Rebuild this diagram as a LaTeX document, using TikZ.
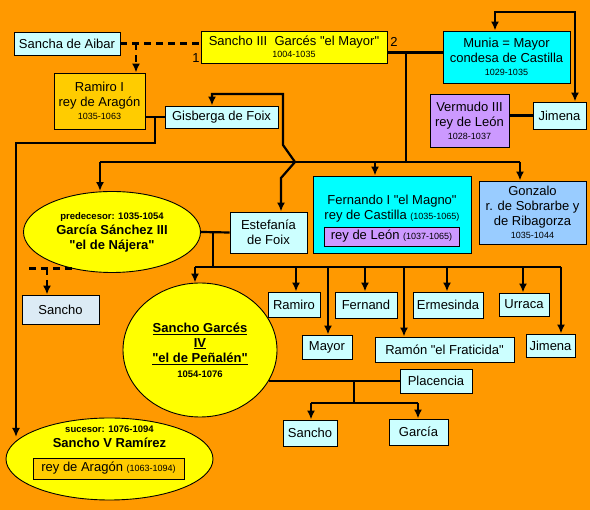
\documentclass[tikz,border=0pt]{standalone}
\usepackage{fontspec}
\setmainfont{Liberation Sans}[Ligatures=TeXOff]
\usetikzlibrary{arrows.meta,shapes.geometric}
\definecolor{bgorange}{HTML}{FF9900}
\definecolor{lcyan}{HTML}{CCFFFF}
\definecolor{paleblue}{HTML}{DCEBF5}
\definecolor{yellowA}{HTML}{FFFF00}
\definecolor{goldA}{HTML}{FFCC00}
\definecolor{cyanA}{HTML}{00FFFF}
\definecolor{lavA}{HTML}{CC99FF}
\definecolor{skyA}{HTML}{99CCFF}
\newcommand{\fsz}[2]{\fontsize{#1}{#2}\selectfont}
\begin{document}
\begin{tikzpicture}[x=1pt,y=-1pt,
  conn/.style={line width=2.2pt, draw=black},
  arr/.style={conn,-{Latex[length=9pt,width=8pt]}},
  darr/.style={conn,{Latex[length=9pt,width=8pt]}-{Latex[length=9pt,width=8pt]}},
  dashconn/.style={conn, dash pattern=on 7pt off 5pt},
  box/.style={draw=black, line width=0.9pt, inner sep=0pt, align=center, font=\fsz{13}{15}},
  ell/.style={ellipse, draw=black, line width=0.9pt, fill=yellowA, inner sep=0pt, align=center, font=\bfseries\fsz{13}{15}},
  txt/.style={inner sep=0pt, align=center, font=\fsz{13}{15}}]
\useasboundingbox (0,0) rectangle (590,510);
\fill[bgorange] (0,0) rectangle (590,510);

% nodes
\node[box, fill=lcyan, minimum width=106pt, minimum height=23pt] (sancha) at (67,43.5) {Sancha de Aibar};
\node[box, fill=yellowA, minimum width=186pt, minimum height=32pt] (sancho3) at (294,47) {Sancho III\ \ Garcés "el Mayor"\\[-3pt]{\fsz{9}{10}1004-1035}};
\node[txt] (lab1) at (196,58) {1};
\node[txt] (lab2) at (394,42) {2};
\node[box, fill=goldA, minimum width=91pt, minimum height=56pt] (ramiro1) at (99.5,101) {Ramiro I\\rey de Aragón\\[-2pt]{\fsz{9}{10}1035-1063}};
\node[box, fill=lcyan, minimum width=113pt, minimum height=22pt] (gisberga) at (221.5,117) {Gisberga de Foix};
\node[box, fill=cyanA, minimum width=127pt, minimum height=52pt] (munia) at (506.5,57) {Munia = Mayor\\condesa de Castilla\\[-2pt]{\fsz{9}{10}1029-1035}};
\node[box, fill=lavA, minimum width=79pt, minimum height=53pt] (vermudo) at (469.5,120.5) {Vermudo III\\rey de León\\[-2pt]{\fsz{9}{10}1028-1037}};
\node[box, fill=lcyan, minimum width=53pt, minimum height=27pt] (jimena1) at (559.5,115.5) {Jimena};

\node[box, fill=cyanA, minimum width=158pt, minimum height=77pt] (fernando) at (392,214.5) {};
\node[txt] (fertxt) at (392,209) {Fernando I "el Magno"\\rey de Castilla {\fsz{9}{10}(1035-1065)}};
\node[box, fill=lavA, minimum width=135pt, minimum height=19pt] (leon) at (391.5,236.5) {rey de León {\fsz{9}{10}(1037-1065)}};
\node[box, fill=skyA, minimum width=107pt, minimum height=63pt] (gonzalo) at (532.5,212.5) {Gonzalo\\r. de Sobrarbe y\\de Ribagorza\\[-2pt]{\fsz{9}{10}1035-1044}};
\node[box, fill=lcyan, minimum width=77pt, minimum height=41pt] (estefania) at (268.5,232.5) {Estefanía\\de Foix};

\node[ell, minimum width=177pt, minimum height=81pt] (garcia) at (112,232) {{\fsz{9.5}{11}predecesor: 1035-1054}\\García Sánchez III\\"el de Nájera"};
\node[box, fill=paleblue, minimum width=77pt, minimum height=29pt] (sanchoL) at (60.5,309.5) {Sancho};

\node[ell, minimum width=154pt, minimum height=134pt] (sancho4) at (200,350) {\underline{Sancho Garcés}\\\underline{IV}\\\underline{"el de Peñalén"}\\{\fsz{9.5}{11}1054-1076}};

\node[box, fill=lcyan, minimum width=52pt, minimum height=25pt] (ramiroS) at (294,304.5) {Ramiro};
\node[box, fill=lcyan, minimum width=62pt, minimum height=26pt] (fernand) at (366,305) {Fernand};
\node[box, fill=lcyan, minimum width=70pt, minimum height=26pt] (ermesinda) at (448,305) {Ermesinda};
\node[box, fill=lcyan, minimum width=50pt, minimum height=23pt] (urraca) at (524,304.5) {Urraca};
\node[box, fill=lcyan, minimum width=50pt, minimum height=24pt] (mayor) at (327,347) {Mayor};
\node[box, fill=lcyan, minimum width=139pt, minimum height=25pt] (ramon) at (444.5,349.5) {Ramón "el Fraticida"};
\node[box, fill=lcyan, minimum width=49pt, minimum height=23pt] (jimena2) at (550.5,345.5) {Jimena};
\node[box, fill=lcyan, minimum width=72pt, minimum height=24pt] (placencia) at (436,381) {Placencia};
\node[box, fill=lcyan, minimum width=54pt, minimum height=26pt] (sanchoB) at (310,433) {Sancho};
\node[box, fill=lcyan, minimum width=59pt, minimum height=26pt] (garciaB) at (418.5,432) {García};

\node[ell, minimum width=207pt, minimum height=82pt] (sancho5) at (109.5,459) {};
\node[txt, font=\bfseries\fsz{13}{15}] (s5txt) at (109.5,437) {{\fsz{9.5}{11}sucesor: 1076-1094}\\Sancho V Ramírez};
\node[box, fill=goldA, minimum width=151pt, minimum height=21pt] (aragon) at (108.5,468.5) {rey de Aragón {\fsz{9}{10}(1063-1094)}};

% junction coordinates
\coordinate (cross) at (295,162);
\coordinate (s5in) at (16,437);
\coordinate (dl) at (27,268);
\coordinate (jRam) at (136,43.5);
\coordinate (y52) at (0,52.5);
\coordinate (jS3) at (406,52.5);
\coordinate (hL) at (100,162);
\coordinate (hR) at (520,162);
\coordinate (jFer) at (375,162);
\coordinate (jMunia) at (495,12);
\coordinate (jJim) at (575,12);
\coordinate (jG1) at (155,117);
\coordinate (jGis) at (212,94);
\coordinate (jEst) at (281,178);
\coordinate (jGa) at (213,232);
\coordinate (cL) at (195,267);
\coordinate (cRam) at (296,267);
\coordinate (cMay) at (328,267);
\coordinate (cFer) at (365,267);
\coordinate (cRamon) at (404,267);
\coordinate (cErm) at (447,267);
\coordinate (cUrr) at (523,267);
\coordinate (cR) at (561,267);
\coordinate (jP) at (354,381);
\coordinate (pL) at (311,403);
\coordinate (pR) at (418,403);
\coordinate (jSL) at (47,268);

% connectors
\draw[dashconn] (sancha.east) -- (sancha.east -| sancho3.west);
\draw[dashconn,-{Latex[length=9pt,width=8pt]}] (jRam) -- (jRam |- ramiro1.north);
\draw[conn] (sancho3.east |- y52) -- (munia.west |- y52);
\draw[conn] (jS3) -- (jS3 |- hL);
\draw[conn] (hL) -- (hR);
\draw[arr] (hL) -- (hL |- garcia.north);
\draw[arr] (jFer) -- (jFer |- fernando.north);
\draw[arr] (hR) -- (hR |- gonzalo.north);
\draw[darr] (jMunia |- munia.north) -- (jMunia) -- (jJim) -- (jJim |- jimena1.north);
\draw[conn] (vermudo.east |- jimena1.west) -- (jimena1.west);
\draw[conn] (ramiro1.east |- gisberga.west) -- (gisberga.west);
\draw[arr] (jG1) -- (155,143) -- (16,143) -- (s5in);
\draw[arr] (cross) -- (283,145) -- (283,94) -- (jGis) -- (jGis |- gisberga.north);
\draw[arr] (cross) -- (jEst) -- (jEst |- estefania.north);
\draw[conn] (garcia.east) -- (estefania.west);
\draw[conn] (jGa) -- (jGa |- cL);
\draw[conn] (cL) -- (cR);
\draw[arr] (cL) -- (cL |- sancho4.north);
\draw[arr] (cRam) -- (cRam |- ramiroS.north);
\draw[arr] (cMay) -- (cMay |- mayor.north);
\draw[arr] (cFer) -- (cFer |- fernand.north);
\draw[arr] (cRamon) -- (cRamon |- ramon.north);
\draw[arr] (cErm) -- (cErm |- ermesinda.north);
\draw[arr] (cUrr) -- (cUrr |- urraca.north);
\draw[arr] (cR) -- (cR |- jimena2.north);
\draw[conn] (sancho4.-24) -- (sancho4.-24 -| placencia.west);
\draw[conn] (jP) -- (jP |- pL);
\draw[conn] (pL) -- (pR);
\draw[arr] (pL) -- (pL |- sanchoB.north);
\draw[arr] (pR) -- (pR |- garciaB.north);
\draw[dashconn] (garcia.222) -- (garcia.222 -| dl);
\draw[dashconn,-{Latex[length=9pt,width=8pt]}] (jSL) -- (jSL |- sanchoL.north);
\end{tikzpicture}
\end{document}
